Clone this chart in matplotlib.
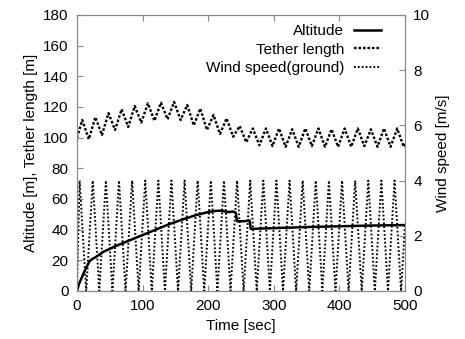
import numpy as np
import matplotlib
matplotlib.use('Agg')
import matplotlib.pyplot as plt

plt.rcParams['font.family'] = ['Liberation Sans', 'DejaVu Sans']
plt.rcParams['font.size'] = 11

# Altitude [m]
alt_t = [0, 3, 7, 11, 15, 19, 22, 30, 40, 60, 80, 100, 120, 140, 160, 180, 200,
         210, 220, 230, 238, 242, 244, 255, 263, 265, 300, 350, 400, 450, 500]
alt_v = [0, 4.5, 8.5, 12.5, 16, 19.3, 20.5, 22.5, 25.5, 29.5, 33, 36.5, 40, 43.5, 46.5, 49.3, 51.5,
         52.2, 52.4, 51.5, 51.8, 51, 45.5, 45.5, 46, 40.5, 41, 41.7, 42.2, 42.7, 43]

# Tether length [m]: peaks and troughs
teth_t = [0, 8, 18, 28, 38, 48, 58, 68, 78, 88, 98, 108, 118, 128, 138, 148, 158, 168,
          178, 188, 198, 208, 218, 228, 238, 248, 258, 268, 278, 288, 298, 308, 318, 328,
          338, 348, 358, 368, 378, 388, 398, 408, 418, 428, 438, 448, 458, 468, 478, 488,
          498, 500]
teth_v = [100, 111.5, 99, 113.4, 101.7, 116, 105, 118.5, 107, 120.6, 109.8, 122.4, 111, 122.8,
          112, 123.3, 111.5, 121.3, 108, 119, 105, 114.8, 102.4, 112.6, 100.6, 107.6, 97, 106,
          95, 106, 94.5, 106, 94, 105.5, 94, 106, 94.5, 106, 94, 105.5, 94, 106, 94, 106,
          94.5, 105.5, 94, 106, 94, 106, 94, 96]

# Wind speed (ground) [m/s]: peaks and troughs
wind_t = [0, 4, 14, 24, 34, 44, 54, 64, 74, 84, 94, 104, 114, 124, 134, 144, 154, 164, 174,
          184, 194, 204, 214, 224, 234, 244, 254, 264, 274, 284, 294, 304, 314, 324, 334, 344,
          354, 364, 374, 384, 394, 404, 414, 424, 434, 444, 454, 464, 474, 484, 494, 500]
wind_v = [0.2, 4, 0, 4, 0, 4, 0, 4, 0, 4, 0, 4, 0, 4, 0, 4, 0, 4, 0, 4, 0, 4, 0, 4, 0, 4,
          0, 4, 0, 4, 0, 4, 0, 4, 0, 4, 0, 4, 0, 4, 0, 4, 0, 4, 0, 4, 0, 4, 0, 4, 0, 2.4]

fig = plt.figure(figsize=(4.65, 3.39), dpi=100)
ax = fig.add_axes([0.1656, 0.1416, 0.7054, 0.8142])
ax2 = ax.twinx()

la, = ax.plot(alt_t, alt_v, color='black', lw=1.8, label='Altitude')
lt, = ax.plot(teth_t, teth_v, color='black', lw=1.7, linestyle=(0, (1.1, 0.8)),
              label='Tether length')
lw, = ax2.plot(wind_t, wind_v, color='black', lw=1.4, linestyle=(0, (0.9, 1.1)),
               label='Wind speed(ground)')

ax.set_xlim(0, 500)
ax.set_ylim(0, 180)
ax2.set_ylim(0, 10)
ax.set_xticks([0, 100, 200, 300, 400, 500])
ax.set_yticks(range(0, 181, 20))
ax2.set_yticks(range(0, 11, 2))

ax.set_xlabel('Time [sec]')
ax.set_ylabel('Altitude [m], Tether length [m]')
ax2.set_ylabel('Wind speed [m/s]')

for a in (ax, ax2):
    for s in a.spines.values():
        s.set_color('#888888')
        s.set_linewidth(0.8)
ax.tick_params(direction='in', length=4, color='#888888', top=True, right=False, pad=6)
ax2.tick_params(direction='in', length=4, color='#888888', pad=6)

leg = ax2.legend(handles=[la, lt, lw], loc='upper right', frameon=False,
                 markerfirst=False, handlelength=1.8, handletextpad=0.6,
                 labelspacing=0.3, borderaxespad=0.2, bbox_to_anchor=(0.955, 1.0))

fig.savefig('out.png', dpi=100)
